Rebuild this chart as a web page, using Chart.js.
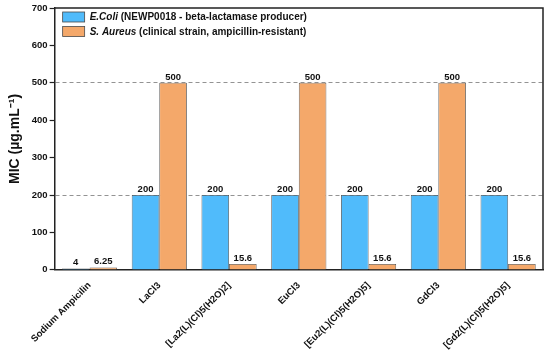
<!DOCTYPE html>
<html>
<head>
<meta charset="utf-8">
<script src="https://cdn.jsdelivr.net/npm/chart.js@4"></script>
<style>
  html, body { margin: 0; padding: 0; background: #fff; }
  #wrap { width: 550px; height: 356px; position: relative; }
</style>
</head>
<body>
<div id="wrap"><canvas id="c"></canvas></div>
<script>
// ---------- Daten ----------
const categories = ['Sodium Ampicilin', 'LaCl3', '[La2(L)(Cl)5(H2O)2]', 'EuCl3', '[Eu2(L)(Cl)5(H2O)5]', 'GdCl3', '[Gd2(L)(Cl)5(H2O)5]'];
const ecoliValues = [4, 200, 200, 200, 200, 200, 200];
const saureusValues = [6.25, 500, 15.6, 500, 15.6, 500, 15.6];
const ecoliLabels = ['4', '200', '200', '200', '200', '200', '200'];
const saureusLabels = ['6.25', '500', '15.6', '500', '15.6', '500', '15.6'];
const legendItalic = ['E.Coli', 'S. Aureus'];
const legendRest = [' (NEWP0018 - beta-lactamase producer)', ' (clinical strain, ampicillin-resistant)'];
const refLines = [200, 500];

const BLUE = '#50bbfb', ORANGE = '#f4a86a', EDGE = '#4a4a4a', FONT = '"Liberation Sans", Arial, sans-serif';

// Werte ueber den Balken
const valueLabels = {
  id: 'valueLabels',
  afterDatasetsDraw(chart) {
    const ctx = chart.ctx;
    ctx.save();
    ctx.font = 'bold 9.5px ' + FONT;
    ctx.fillStyle = '#111';
    ctx.textAlign = 'center';
    ctx.textBaseline = 'bottom';
    const txt = [ecoliLabels, saureusLabels];
    chart.data.datasets.forEach((ds, di) => {
      chart.getDatasetMeta(di).data.forEach((bar, i) => {
        ctx.fillText(txt[di][i], bar.x, bar.y - 1);
      });
    });
    ctx.restore();
  }
};

// Rahmen oben/rechts + Legende
const frameLegend = {
  id: 'frameLegend',
  afterDraw(chart) {
    const { ctx, chartArea: a } = chart;
    ctx.save();
    ctx.strokeStyle = '#222';
    ctx.lineWidth = 1.5;
    ctx.beginPath();
    ctx.moveTo(a.left, a.top); ctx.lineTo(a.right, a.top); ctx.lineTo(a.right, a.bottom);
    ctx.stroke();

    const cols = [BLUE, ORANGE];
    legendItalic.forEach((name, i) => {
      const y = a.top + 4 + i * 14.5;
      ctx.fillStyle = cols[i];
      ctx.fillRect(a.left + 8, y, 22, 10);
      ctx.strokeStyle = EDGE; ctx.lineWidth = 0.8;
      ctx.strokeRect(a.left + 8, y, 22, 10);
      ctx.fillStyle = '#111';
      ctx.textBaseline = 'middle';
      ctx.textAlign = 'left';
      ctx.font = 'italic bold 10px ' + FONT;
      const x0 = a.left + 35;
      ctx.fillText(name, x0, y + 5.5);
      const w = ctx.measureText(name).width;
      ctx.font = 'bold 10px ' + FONT;
      ctx.fillText(legendRest[i], x0 + w, y + 5.5);
    });
    ctx.restore();
  }
};

new Chart(document.getElementById('c').getContext('2d'), {
  type: 'bar',
  data: {
    labels: categories,
    datasets: [
      { label: legendItalic[0] + legendRest[0], data: ecoliValues, backgroundColor: BLUE, borderColor: EDGE, borderWidth: 0.8 },
      { label: legendItalic[1] + legendRest[1], data: saureusValues, backgroundColor: ORANGE, borderColor: EDGE, borderWidth: 0.8 }
    ]
  },
  options: {
    responsive: true,
    maintainAspectRatio: false,
    animation: false,
    layout: { padding: { top: 8, right: 7, left: 7, bottom: 3 } },
    datasets: { bar: { categoryPercentage: 0.79, barPercentage: 1 } },
    plugins: { legend: { display: false }, tooltip: { enabled: false } },
    scales: {
      x: {
        z: 2,
        grid: { display: false },
        border: { display: true, color: '#222', width: 1.5 },
        ticks: {
          color: '#111', font: { family: FONT, size: 9.5, weight: 'bold' },
          maxRotation: 45, minRotation: 45, padding: 2
        }
      },
      y: {
        z: 1,
        min: 0, max: 700,
        grid: {
          drawOnChartArea: true,
          color: c => refLines.includes(c.tick && c.tick.value) ? '#777' : 'rgba(0,0,0,0)',
          tickColor: '#222', tickLength: 5, lineWidth: 0.8, tickWidth: 1.2
        },
        border: { display: true, color: '#222', width: 1.5, dash: [4, 3] },
        ticks: { stepSize: 100, color: '#111', font: { family: FONT, size: 9.5, weight: 'bold' }, padding: 2 },
        title: { display: true, text: 'MIC (µg.mL⁻¹)', color: '#111', font: { family: FONT, size: 14, weight: 'bold' }, padding: { top: 0, bottom: 6 } }
      }
    }
  },
  plugins: [valueLabels, frameLegend]
});
</script>
</body>
</html>
